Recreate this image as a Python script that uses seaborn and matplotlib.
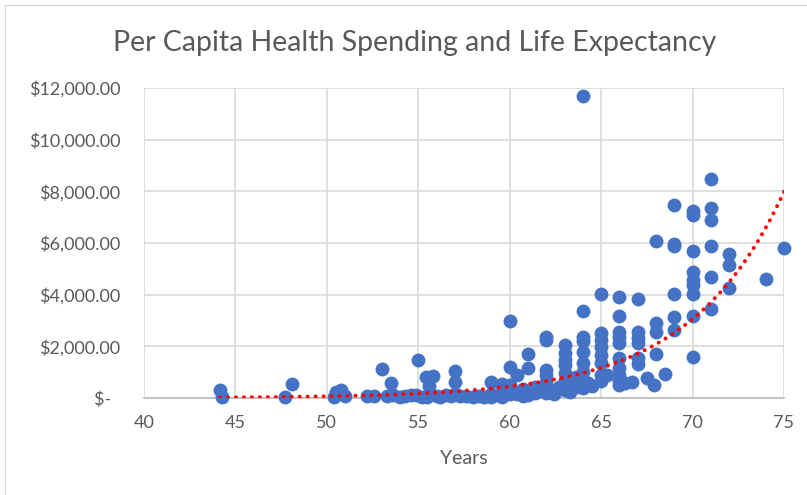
import numpy as np
import pandas as pd
import matplotlib
matplotlib.use("Agg")
import matplotlib.pyplot as plt
import seaborn as sns

# Life expectancy (years) and per capita health spending ($)
life_expectancy = [
    44.15, 44.27, 47.7, 48.1, 50.4, 50.5, 50.8, 51.0, 52.2, 52.6,
    53.0, 53.3, 53.5, 53.6, 54.0, 54.3, 54.6, 54.9, 55.0, 55.2,
    55.4, 55.5, 55.6, 55.8, 56.0, 56.2, 56.5, 56.8, 57.0, 57.0,
    57.0, 57.3, 57.6, 58.0, 58.3, 58.6, 59.0, 59.0, 59.0, 59.3,
    59.6, 59.6, 59.6, 60.0, 60.0, 60.0, 60.0, 60.0, 60.4, 60.4,
    60.7, 60.7, 61.0, 61.0, 61.0, 61.0, 61.4, 61.4, 61.7, 62.0,
    62.0, 62.0, 62.0, 62.0, 62.0, 62.0, 62.4, 62.4, 62.7, 63.0,
    63.0, 63.0, 63.0, 63.0, 63.0, 63.0, 63.0, 63.3, 63.3, 63.6,
    63.6, 64.0, 64.0, 64.0, 64.0, 64.0, 64.0, 64.0, 64.0, 64.0,
    64.0, 64.3, 64.5, 65.0, 65.0, 65.0, 65.0, 65.0, 65.0, 65.0,
    65.0, 65.3, 66.0, 66.0, 66.0, 66.0, 66.0, 66.0, 66.0, 66.0,
    66.0, 66.0, 66.3, 66.7, 67.0, 67.0, 67.0, 67.0, 67.0, 67.0,
    67.5, 67.9, 68.0, 68.0, 68.0, 68.0, 68.5, 69.0, 69.0, 69.0,
    69.0, 69.0, 69.0, 70.0, 70.0, 70.0, 70.0, 70.0, 70.0, 70.0,
    70.0, 70.0, 71.0, 71.0, 71.0, 71.0, 71.0, 71.0, 72.0, 72.0,
    72.0, 74.0, 75.0,
]
health_spending = [
    310, 50, 30, 540, 45, 220, 310, 95, 85, 85,
    1120, 85, 570, 110, 35, 75, 100, 120, 1490, 50,
    820, 30, 480, 860, 95, 50, 120, 70, 1050, 610,
    140, 75, 60, 30, 90, 50, 620, 150, 50, 100,
    550, 220, 50, 2970, 1200, 500, 280, 140, 880, 160,
    350, 80, 1700, 1160, 270, 100, 420, 180, 310, 2370,
    2230, 1080, 900, 620, 370, 200, 270, 140, 440, 2050,
    1730, 1470, 1280, 950, 700, 470, 320, 600, 220, 800,
    420, 11700, 3380, 2360, 2200, 1800, 1340, 1000, 700, 520,
    370, 600, 470, 4010, 2500, 2250, 1990, 1670, 1340, 900,
    650, 880, 3900, 3170, 2570, 2350, 2120, 1540, 1150, 900,
    650, 500, 600, 630, 3820, 2570, 2330, 2120, 1540, 1330,
    760, 500, 6090, 2890, 2570, 1700, 930, 7470, 5950, 5880,
    4030, 3120, 2630, 7250, 7090, 5700, 4870, 4570, 4380, 4030,
    3180, 1580, 8470, 7340, 6890, 5890, 4670, 3430, 5570, 5150,
    4250, 4610, 5800,
]

y_ticks = [0, 2000, 4000, 6000, 8000, 10000, 12000]
y_tick_labels = ["$-  ", "$2,000.00", "$4,000.00", "$6,000.00",
                 "$8,000.00", "$10,000.00", "$12,000.00"]
x_ticks = [40, 45, 50, 55, 60, 65, 70, 75]

df = pd.DataFrame({"Years": life_expectancy, "Spending": health_spending})

# exponential trendline, fitted like Excel does (least squares on ln y)
b, ln_a = np.polyfit(df["Years"], np.log(df["Spending"]), 1)
trend_x = np.linspace(df["Years"].min(), df["Years"].max(), 200)
trend = pd.DataFrame({"Years": trend_x, "Spending": np.exp(ln_a) * np.exp(b * trend_x)})

sns.set_style("white")
plt.rcParams["font.family"] = ["Lato", "DejaVu Sans"]

fig = plt.figure(figsize=(8.07, 4.95), dpi=100)
ax = fig.add_axes([144 / 807, 1 - 398 / 495, 640 / 807, 310 / 495])

sns.scatterplot(data=df, x="Years", y="Spending", ax=ax, color="#4472C4",
                s=100, linewidth=0, zorder=3, clip_on=False)
sns.lineplot(data=trend, x="Years", y="Spending", ax=ax, color="#FF0000",
             linewidth=2.8, linestyle=(0, (0.05, 2.0)), zorder=4,
             solid_capstyle="round", dash_capstyle="round")

ax.set_xlim(40, 75)
ax.set_ylim(0, 12000)
ax.set_xticks(x_ticks)
ax.set_yticks(y_ticks)
ax.set_yticklabels(y_tick_labels)
ax.tick_params(axis="both", length=0, labelsize=13, labelcolor="#595959")
ax.tick_params(axis="y", pad=17)
ax.tick_params(axis="x", pad=12)
ax.grid(True, color="#d9d9d9", linewidth=1.2)
ax.set_axisbelow(True)
for side in ["top", "right", "left"]:
    ax.spines[side].set_visible(False)
ax.spines["bottom"].set_color("#bfbfbf")
ax.spines["bottom"].set_linewidth(1.3)

ax.set_xlabel("Years", fontsize=14, color="#595959", labelpad=14)
ax.set_ylabel("")
fig.suptitle("Per Capita Health Spending and Life Expectancy", fontsize=20.5,
             color="#595959", x=0.514, y=0.94)

# chart area border
fig.patches.append(plt.Rectangle((5 / 807, -0.1), 1.2, 490 / 495 + 0.1,
                                 transform=fig.transFigure, fill=False,
                                 edgecolor="#d9d9d9", linewidth=1))

fig.savefig("out.png", dpi=100)
